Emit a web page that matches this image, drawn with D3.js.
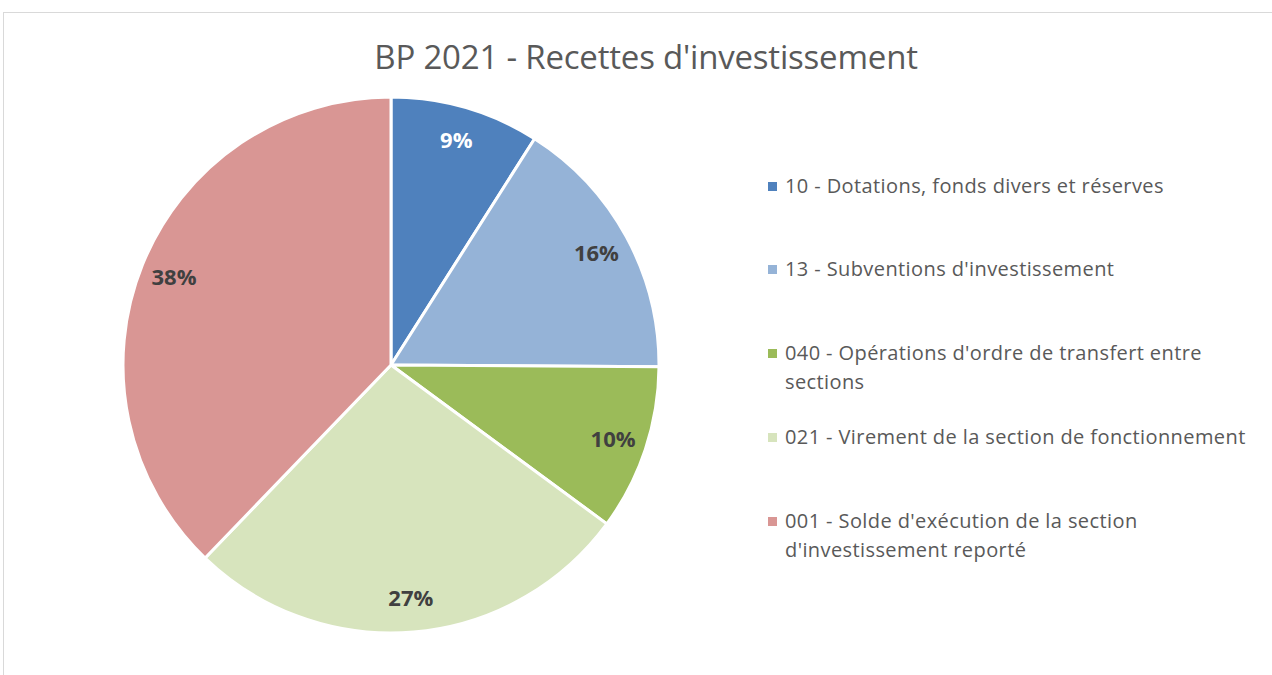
<!DOCTYPE html>
<html><head><meta charset="utf-8">
<script src="https://cdn.jsdelivr.net/npm/d3@7/dist/d3.min.js"></script>
<style>body{margin:0;background:#fff;}svg{display:block;}</style>
</head><body>
<svg id="c" width="1272" height="675"></svg>
<script>
const categories = [
  "10 - Dotations, fonds divers et réserves",
  "13 - Subventions d'investissement",
  "040 - Opérations d'ordre de transfert entre sections",
  "021 - Virement de la section de fonctionnement",
  "001 - Solde d'exécution de la section d'investissement reporté"
];
const legendLines = [
  ["10 - Dotations, fonds divers et réserves"],
  ["13 - Subventions d'investissement"],
  ["040 - Opérations d'ordre de transfert entre", "sections"],
  ["021 - Virement de la section de fonctionnement"],
  ["001 - Solde d'exécution de la section", "d'investissement reporté"]
];
const values = [9.0, 16.1, 10.0, 27.1, 37.8];
const colors = ["#4f81bd", "#95b3d7", "#9bbb59", "#d7e4bd", "#d99694"];
const labelColors = ["#ffffff", "#404040", "#404040", "#404040", "#404040"];

const svg = d3.select("#c");
const font = "'Open Sans', 'Noto Sans', sans-serif";

// outer border
svg.append("rect").attr("x", 3.5).attr("y", 12.5).attr("width", 1300).attr("height", 700)
  .attr("fill", "none").attr("stroke", "#d9d9d9").attr("stroke-width", 1);

svg.append("text").attr("x", 646).attr("y", 69).attr("text-anchor", "middle")
  .attr("font-family", font).attr("font-size", 33).attr("letter-spacing", -0.2).attr("fill", "#595959")
  .text("BP 2021 - Recettes d'investissement");

const cx = 391, cy = 365, r = 268;
const pie = d3.pie().sort(null).value(d => d);
const arcs = pie(values);
const arc = d3.arc().innerRadius(0).outerRadius(r);
const g = svg.append("g").attr("transform", `translate(${cx},${cy})`);
g.selectAll("path").data(arcs).join("path")
  .attr("d", arc).attr("fill", (d, i) => colors[i])
  .attr("stroke", "#fff").attr("stroke-width", 3).attr("stroke-linejoin", "round");

const total = d3.sum(values);
const labelArc = d3.arc().innerRadius(234).outerRadius(234);
g.selectAll("text.lbl").data(arcs).join("text").attr("class", "lbl")
  .attr("transform", d => `translate(${labelArc.centroid(d)})`)
  .attr("text-anchor", "middle").attr("dy", "0.36em")
  .attr("font-family", font).attr("font-weight", "bold").attr("font-size", 22)
  .attr("fill", (d, i) => labelColors[i])
  .text(d => Math.round(d.value / total * 100) + "%");

const legendY = [186, 269, 353, 437, 521];
const lg = svg.append("g");
legendLines.forEach((lines, i) => {
  lg.append("rect").attr("x", 768).attr("y", legendY[i] - 4).attr("width", 9).attr("height", 9)
    .attr("fill", colors[i]);
  const t = lg.append("text").attr("x", 785).attr("y", legendY[i])
    .attr("font-family", font).attr("font-size", 20).attr("letter-spacing", 0.4).attr("fill", "#595959");
  lines.forEach((ln, j) => {
    t.append("tspan").attr("x", 785).attr("dy", j === 0 ? "0.36em" : 29).text(ln);
  });
});
</script>
</body></html>
